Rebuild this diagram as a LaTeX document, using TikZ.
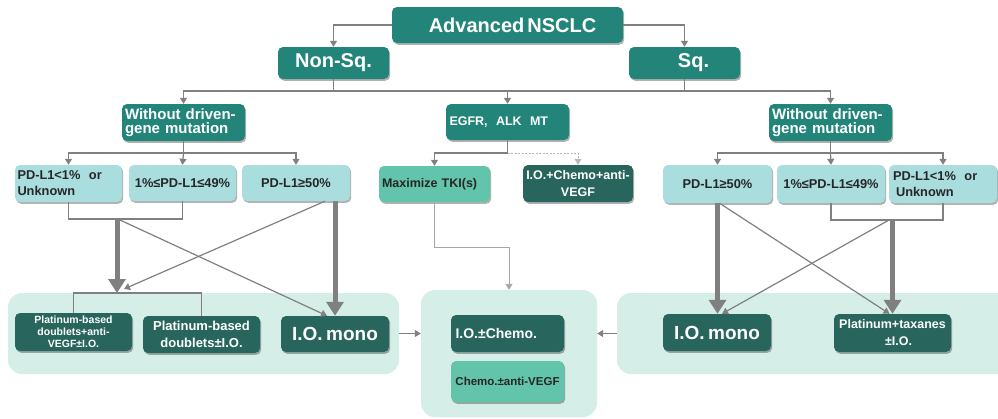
\documentclass[tikz,border=0pt]{standalone}
\usepackage{fontspec}
\setmainfont{Liberation Sans}
\usetikzlibrary{arrows.meta,shadows,calc}
\definecolor{tealA}{RGB}{35,133,122}
\definecolor{darkA}{RGB}{40,102,93}
\definecolor{cyanA}{RGB}{170,221,222}
\definecolor{greenA}{RGB}{98,196,170}
\definecolor{bgA}{RGB}{214,238,232}
\definecolor{grayA}{RGB}{128,128,128}
\newcommand{\fsb}[2]{\fontsize{#1}{#2}\selectfont\bfseries}
\begin{document}
\begin{tikzpicture}[x=1pt,y=-1pt,
  box/.style={rounded corners=5pt, inner sep=2pt, align=center, text=white,
    drop shadow={shadow xshift=1.2pt,shadow yshift=-1.8pt,opacity=0.3,fill=black}},
  topbox/.style={box, fill=tealA},
  resbox/.style={box, fill=darkA},
  pdbox/.style={box, fill=cyanA, text=black!85},
  midbox/.style={box, fill=greenA, text=black!85},
  region/.style={fill=bgA, rounded corners=14pt, inner sep=0pt},
  line/.style={draw=grayA, line width=1.2pt},
  arr/.style={line, -{Triangle[width=7pt,length=6pt]}},
  fat/.style={draw=grayA, line width=5pt, -{Triangle[width=17pt,length=14pt]}}]
\useasboundingbox (0,0) rectangle (998,418);
\clip (0,0) rectangle (998,418);
\fill[white] (0,0) rectangle (998,418);

% background regions
\node[region, minimum width=391pt, minimum height=81pt] (bgL) at (203.5,333.5) {};
\node[region, minimum width=176pt, minimum height=127pt] (bgC) at (509,353.5) {};
\node[region, minimum width=398pt, minimum height=81pt] (bgR) at (816,333.5) {};

% top levels
\node[topbox, minimum width=231pt, minimum height=36pt, font=\fsb{20}{22}] (adv) at (507.5,25) {\hspace*{10pt}Advanced\kern3pt NSCLC};
\node[topbox, minimum width=111pt, minimum height=32pt, font=\fsb{20}{22}] (nonsq) at (333.5,63) {Non-Sq.};
\node[topbox, minimum width=111pt, minimum height=32pt, font=\fsb{20}{22}] (sq) at (684.5,63) {\hspace*{18pt}Sq.};

\node[topbox, minimum width=123pt, minimum height=37pt, text width=117pt, align=left, font=\fsb{15}{14.5}] (wl) at (183.5,122.5) {Without driven-\\gene mutation};
\node[topbox, minimum width=123pt, minimum height=36pt, text width=116pt, align=left, font=\fsb{12.5}{15}] (egfr) at (507.5,122) {EGFR,~ ALK~ MT};
\node[topbox, minimum width=123pt, minimum height=37pt, text width=117pt, align=left, font=\fsb{15}{14.5}] (wr) at (830.5,122.5) {Without driven-\\gene mutation};

% PD-L1 left
\node[pdbox, minimum width=107pt, minimum height=37pt, text width=102pt, align=left, font=\fsb{12.8}{16}] (pl1) at (68.5,183.5) {PD-L1<1\%~ or\\Unknown};
\node[pdbox, minimum width=107pt, minimum height=36pt, font=\fsb{12.8}{16}] (pl2) at (182.5,183) {1\%≤PD-L1≤49\%};
\node[pdbox, minimum width=108pt, minimum height=36pt, font=\fsb{12.8}{16}] (pl3) at (296,183) {PD-L1≥50\%};

% EGFR branch
\node[midbox, minimum width=111pt, minimum height=36pt, text width=105pt, align=left, font=\fsb{12.5}{16}] (tki) at (434.5,184) {Maximize TKI(s)};
\node[resbox, minimum width=110pt, minimum height=37pt, font=\fsb{12.5}{17}] (ioc) at (578,183.5) {I.O.+Chemo+anti-\\VEGF};

% PD-L1 right
\node[pdbox, minimum width=109pt, minimum height=38pt, font=\fsb{12.8}{16}] (pr1) at (717.5,184) {PD-L1≥50\%};
\node[pdbox, minimum width=108pt, minimum height=38pt, font=\fsb{12.8}{16}] (pr2) at (831,184) {1\%≤PD-L1≤49\%};
\node[pdbox, minimum width=108pt, minimum height=38pt, text width=100pt, align=left, font=\fsb{12.8}{16}] (pr3) at (943,184) {PD-L1<1\%~ or\\\hspace*{3pt}Unknown};

% lower left results
\node[resbox, minimum width=117pt, minimum height=38pt, font=\fsb{10.5}{12}] (lb1) at (73.5,332) {Platinum-based\\doublets+anti-\\VEGF±I.O.};
\node[resbox, minimum width=117pt, minimum height=37pt, font=\fsb{13}{17}] (lb2) at (201.5,334.5) {Platinum-based\\doublets±I.O.};
\node[resbox, minimum width=108pt, minimum height=36pt, font=\fsb{19}{21}] (lb3) at (335,334) {I.O.\kern3.5pt mono};

% center results
\node[resbox, minimum width=113pt, minimum height=37pt, text width=104pt, align=left, font=\fsb{14}{16}] (cb1) at (507.5,333.5) {I.O.±Chemo.};
\node[midbox, minimum width=113pt, minimum height=41pt, font=\fsb{11.5}{14}] (cb2) at (507.5,381.5) {Chemo.±anti-VEGF};

% right results
\node[resbox, minimum width=108pt, minimum height=37pt, font=\fsb{19}{21}] (rb1) at (717,332.5) {I.O.\kern3.5pt mono};
\node[resbox, minimum width=117pt, minimum height=38pt, font=\fsb{12.5}{17}] (rb2) at (892.5,333) {Platinum+taxanes\\\hspace*{12pt}±I.O.};

% coordinates
\coordinate (busY) at (0,91);
\coordinate (busL) at (0,153);
\coordinate (brLy) at (0,219);
\coordinate (brRy) at (0,220);
\coordinate (tkY) at (0,247);
\coordinate (tL1) at (117,219);
\coordinate (tL2) at (117,293);
\coordinate (dL1) at (120,220);
\coordinate (dL2) at (124,289);
\coordinate (dR1) at (889,220);

% top connectors
\draw[arr] (adv.west) -| (nonsq.north);
\draw[arr] (adv.east) -| (sq.north);
\draw[line] (nonsq.south) -- (nonsq.south |- busY);
\draw[line] (sq.south) -- (sq.south |- busY);
\draw[line] (nonsq.south |- busY) -- (sq.south |- busY);
\draw[arr] (nonsq.south |- busY) -| (wl.north);
\draw[arr] (sq.south |- busY) -| (wr.north);
\draw[arr] (egfr.north |- busY) -- (egfr.north);

% left without -> PD-L1
\draw[line] (wl.south) -- (wl.south |- busL);
\draw[arr] (wl.south |- busL) -| (pl1.north);
\draw[arr] (wl.south |- busL) -- (pl2.north);
\draw[arr] (wl.south |- busL) -| (pl3.north);

% EGFR
\draw[line] (egfr.south) -- (egfr.south |- busL);
\draw[arr] (egfr.south |- busL) -| (tki.north);
\draw[draw=gray!55, line width=1pt, dash pattern=on 2pt off 1.5pt, -{Triangle[width=7pt,length=6pt]}] (egfr.south |- busL) -| (ioc.north);

% right without -> PD-L1
\draw[line] (wr.south) -- (wr.south |- busL);
\draw[arr] (wr.south |- busL) -| (pr1.north);
\draw[arr] (wr.south |- busL) -- (pr2.north);
\draw[arr] (wr.south |- busL) -| (pr3.north);

% left lower connections
\draw[line] (pl1.south) -- (pl1.south |- brLy) -- (pl2.south |- brLy) -- (pl2.south);
\draw[line] (lb1.north) -- (lb1.north |- tL2) -- (lb2.north |- tL2) -- (lb2.north);
\draw[arr] (dL1) -- ([xshift=-8pt]lb3.north);
\draw[arr] ([xshift=29pt]pl3.south) -- (dL2);
\draw[fat] (tL1) -- (tL2);
\draw[fat] (pl3.south -| lb3.north) -- (lb3.north);

% right lower connections
\draw[line] (pr2.south) -- (pr2.south |- brRy) -- (pr3.south |- brRy) -- (pr3.south);
\draw[arr] ([xshift=2pt]pr1.south) -- ([xshift=-3pt]rb2.north);
\draw[arr] (dR1) -- ([xshift=5pt]rb1.north);
\draw[fat] (pr1.south) -- (pr1.south |- rb1.north);
\draw[fat] (rb2.north |- brRy) -- (rb2.north);

% TKI -> center
\draw[draw=gray!70, line width=0.9pt, -{Triangle[width=7pt,length=6pt]}] (tki.south) -- (tki.south |- tkY) -- (bgC.north |- tkY) -- (bgC.north);

% region arrows
\draw[arr] (bgL.east) -- (bgL.east -| bgC.west);
\draw[arr] (bgR.west) -- (bgR.west -| bgC.east);
\end{tikzpicture}
\end{document}
